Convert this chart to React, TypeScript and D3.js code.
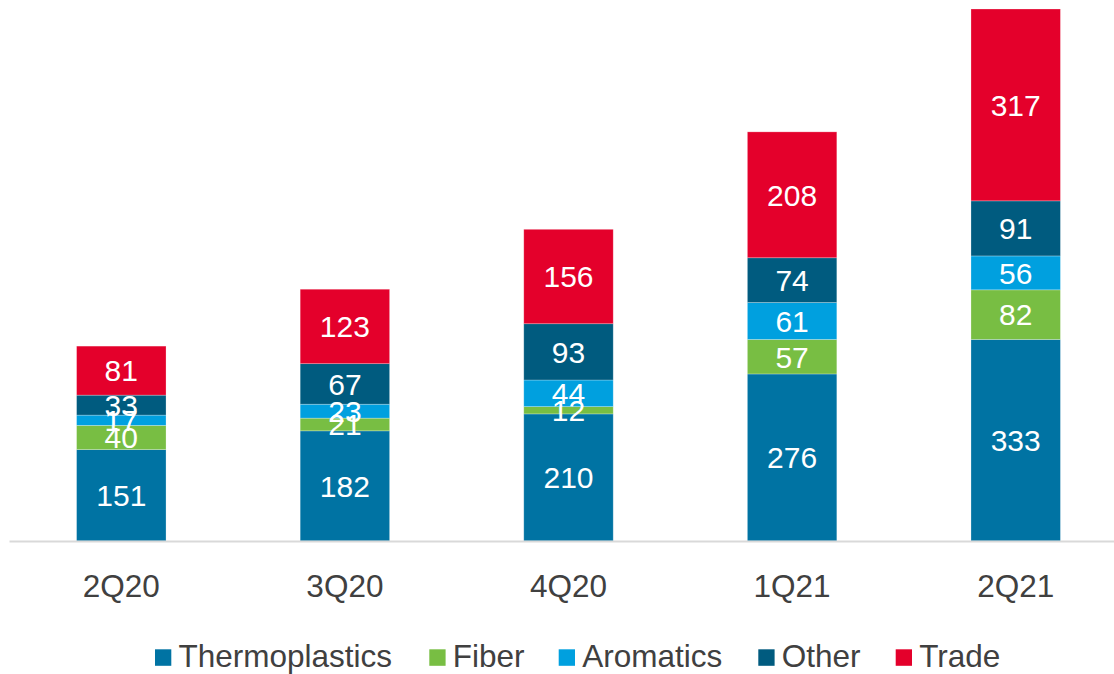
import React from "react";
import * as d3 from "d3";

const quarters = ["2Q20", "3Q20", "4Q20", "1Q21", "2Q21"];
const seriesNames = ["Thermoplastics", "Fiber", "Aromatics", "Other", "Trade"];
const thermoplastics = [151, 182, 210, 276, 333];
const fiber = [40, 21, 12, 57, 82];
const aromatics = [17, 23, 44, 61, 56];
const other = [33, 67, 93, 74, 91];
const trade = [81, 123, 156, 208, 317];
const seriesColors = ["#0073A3", "#78BE43", "#00A0DF", "#005B7F", "#E4002B"];

const W = 1114;
const H = 674;
const FONT = "'Liberation Sans', Arial, sans-serif";

export default function App() {
  const seriesValues = [thermoplastics, fiber, aromatics, other, trade];
  const rows = quarters.map((q, i) => {
    const row: Record<string, any> = { quarter: q };
    seriesNames.forEach((s, k) => (row[s] = seriesValues[k][i]));
    return row;
  });
  const stack = d3.stack<any>().keys(seriesNames);
  const layers = stack(rows);

  const x = d3
    .scaleBand<string>()
    .domain(quarters)
    .range([9.5, 1127.5])
    .paddingInner(0.6)
    .paddingOuter(0.3);
  const maxTotal = d3.max(rows, (r) => d3.sum(seriesNames, (s) => r[s])) as number;
  const y = d3.scaleLinear().domain([0, maxTotal]).range([541, 9]);

  // legend swatch left edges
  const legendX = [155, 429.3, 558.7, 758.3, 895.7];

  return (
    <svg
      width={W}
      height={H}
      style={{ position: "absolute", left: 0, top: 0, background: "#fff" }}
      fontFamily={FONT}
    >
      {layers.map((layer, k) => (
        <g key={layer.key}>
          {layer.map((d, i) => {
            const x0 = x(quarters[i]) as number;
            const top = y(d[1]);
            const bot = y(d[0]);
            return (
              <rect
                key={i}
                x={x0}
                y={top}
                width={x.bandwidth()}
                height={bot - top}
                fill={seriesColors[k]}
                stroke="#ffffff"
                strokeOpacity={0.35}
                strokeWidth={0.75}
              />
            );
          })}
        </g>
      ))}
      {layers.map((layer, k) => (
        <g key={"l" + layer.key}>
          {layer.map((d, i) => {
            const cx = (x(quarters[i]) as number) + x.bandwidth() / 2;
            const cy = (y(d[0]) + y(d[1])) / 2;
            return (
              <text
                key={i}
                x={cx}
                y={cy}
                dy="0.36em"
                textAnchor="middle"
                fill="#ffffff"
                fontSize={30}
              >
                {d[1] - d[0]}
              </text>
            );
          })}
        </g>
      ))}
      <line x1={9.5} x2={W} y1={541.5} y2={541.5} stroke="#D9D9D9" strokeWidth={2} />
      {quarters.map((q) => (
        <text
          key={q}
          x={(x(q) as number) + x.bandwidth() / 2}
          y={597}
          textAnchor="middle"
          fill="#404040"
          fontSize={31.5}
        >
          {q}
        </text>
      ))}
      {seriesNames.map((s, k) => (
        <g key={s} transform={`translate(${legendX[k]},0)`}>
          <rect x={0} y={649.3} width={16.3} height={16.5} fill={seriesColors[k]} />
          <text x={23.5} y={667} fill="#404040" fontSize={31.5}>
            {s}
          </text>
        </g>
      ))}
    </svg>
  );
}
